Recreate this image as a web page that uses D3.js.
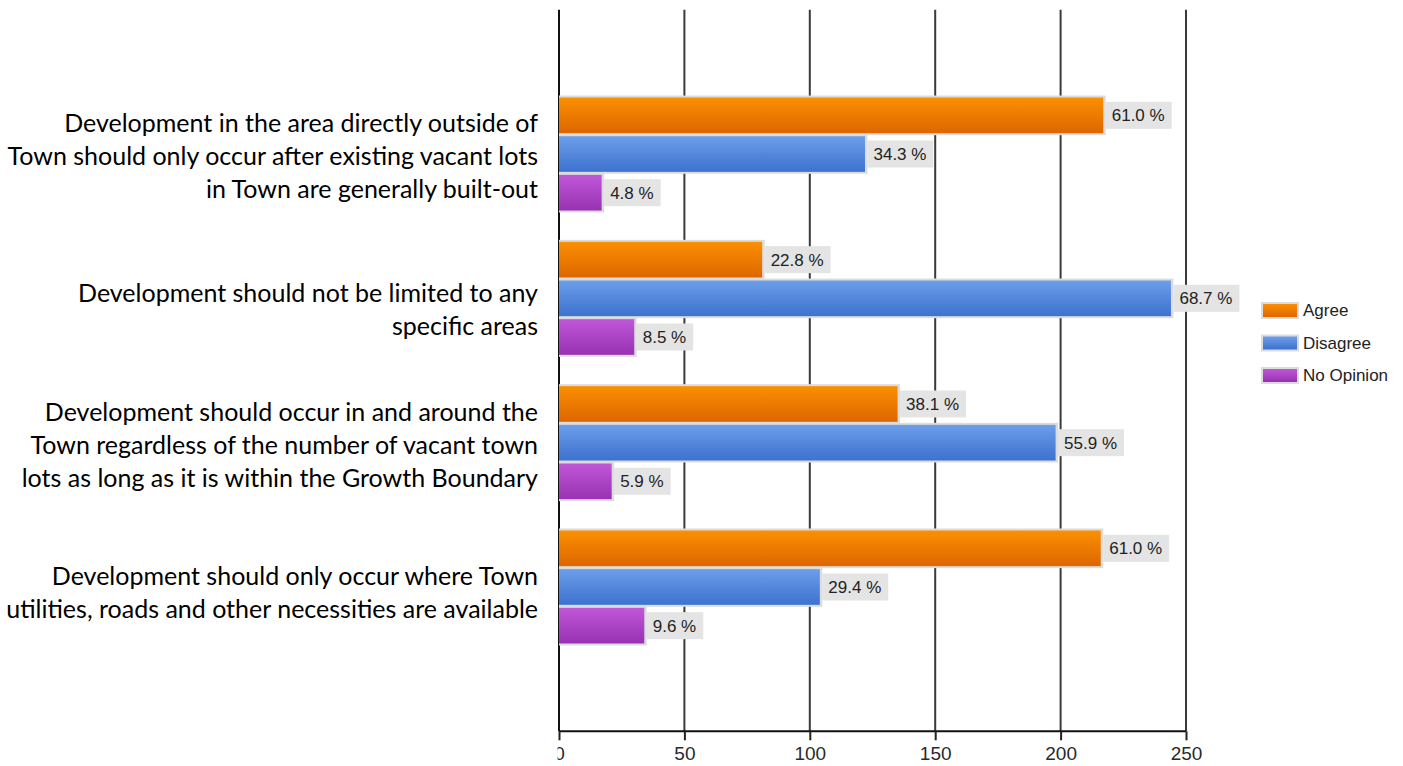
<!DOCTYPE html>
<html>
<head>
<meta charset="utf-8">
<script src="https://cdn.jsdelivr.net/npm/d3@7"></script>
<style>
  html, body { margin: 0; padding: 0; background: #ffffff; }
  svg { display: block; }
</style>
</head>
<body>
<svg id="chart" width="1403" height="766"></svg>
<script>
// Survey statements (each entry holds the wrapped lines of one statement)
const categoryLines = [
  ["Development in the area directly outside of",
   "Town should only occur after existing vacant lots",
   "in Town are generally built-out"],
  ["Development should not be limited to any",
   "specific areas"],
  ["Development should occur in and around the",
   "Town regardless of the number of vacant town",
   "lots as long as it is within the Growth Boundary"],
  ["Development should only occur where Town",
   "utilities, roads and other necessities are available"]
];

// Response series and respondent counts per statement
const seriesNames = ["Agree", "Disagree", "No Opinion"];
const agreeCounts = [217, 81, 135, 216];
const disagreeCounts = [122, 244, 198, 104];
const noOpinionCounts = [17, 30, 21, 34];

// Value axis ticks
const xTicks = [0, 50, 100, 150, 200, 250];

const seriesValues = [agreeCounts, disagreeCounts, noOpinionCounts];

// Styling / layout
const W = 1403, H = 766;
const plot = { left: 559, right: 1186, top: 9.7, bottom: 731.3 };
const gradients = [
  { id: "g-agree",    top: "#fb9000", bottom: "#dd6600" },
  { id: "g-disagree", top: "#6c9ee9", bottom: "#3d72cf" },
  { id: "g-noop",     top: "#c057d9", bottom: "#9732b1" }
];
const labelNudge = [0, 9, 0, 4];
const sansFont = "'Liberation Sans', Arial, sans-serif";

const svg = d3.select("#chart");

const defs = svg.append("defs");
gradients.forEach(g => {
  const lg = defs.append("linearGradient")
    .attr("id", g.id).attr("x1", 0).attr("y1", 0).attr("x2", 0).attr("y2", 1);
  lg.append("stop").attr("offset", "0%").attr("stop-color", g.top);
  lg.append("stop").attr("offset", "100%").attr("stop-color", g.bottom);
});
defs.append("clipPath").attr("id", "tick-clip")
  .append("rect").attr("x", plot.left - 2).attr("y", 0).attr("width", W).attr("height", H);

// Scales
const x = d3.scaleLinear().domain([0, 250]).range([plot.left, plot.right]);
const y = d3.scalePoint().domain(d3.range(categoryLines.length))
  .range([plot.top, plot.bottom]).padding(1);
const groupHalf = 58;
const ySub = d3.scaleBand().domain(seriesNames).range([-groupHalf, groupHalf]);

// Vertical gridlines
svg.append("g").selectAll("line").data(xTicks).join("line")
  .attr("x1", d => x(d)).attr("x2", d => x(d))
  .attr("y1", plot.top).attr("y2", plot.bottom)
  .attr("stroke", d => d === 0 ? "#111" : "#3a3a3a")
  .attr("stroke-width", 2);

// Bar records with percentage of respondents per statement
const rows = [];
categoryLines.forEach((lines, ci) => {
  const total = d3.sum(seriesValues, s => s[ci]);
  seriesNames.forEach((name, si) => {
    const v = seriesValues[si][ci];
    rows.push({ ci, si, name, v, pct: (v / total * 100).toFixed(1) + " %" });
  });
});

// Bars
const barG = svg.append("g");
rows.forEach(r => {
  const by = y(r.ci) + ySub(r.name);
  const bh = ySub.bandwidth();
  const x0 = x(0), x1 = x(r.v);
  // light outline behind each bar
  barG.append("rect")
    .attr("x", x0).attr("y", by - 0.5)
    .attr("width", x1 - x0 + 2.5).attr("height", bh + 1)
    .attr("fill", "#dcdcdc");
  barG.append("rect")
    .attr("x", x0).attr("y", by + 1.5)
    .attr("width", x1 - x0).attr("height", bh - 3)
    .attr("fill", `url(#${gradients[r.si].id})`);
});

// Value labels
const labG = svg.append("g");
rows.forEach(r => {
  const cy = y(r.ci) + ySub(r.name) + ySub.bandwidth() / 2;
  const bx = x(r.v) + 2.5;
  const g = labG.append("g");
  const box = g.append("rect")
    .attr("x", bx).attr("y", cy - 13.5).attr("height", 27)
    .attr("fill", "#e4e4e4");
  const t = g.append("text")
    .attr("x", bx + 6).attr("y", cy + 6)
    .attr("font-family", sansFont)
    .attr("font-size", 17).attr("fill", "#222")
    .text(r.pct);
  box.attr("width", t.node().getComputedTextLength() + 13);
});

// Horizontal value axis
const axisG = svg.append("g")
  .attr("transform", `translate(0,${plot.bottom})`)
  .call(d3.axisBottom(x).tickValues(xTicks).tickSize(9).tickPadding(6).tickFormat(d3.format("d")));
axisG.select(".domain").attr("stroke", "#111").attr("stroke-width", 2)
  .attr("d", `M${plot.left},0H${plot.right}`);
axisG.selectAll(".tick line").attr("stroke", "#222").attr("stroke-width", 2);
axisG.selectAll(".tick text")
  .attr("font-family", sansFont)
  .attr("font-size", 19).attr("fill", "#2a2a2a");
// the "0" label is cut at the axis edge
axisG.selectAll(".tick").filter(d => d === 0).select("text")
  .attr("clip-path", "url(#tick-clip-local)");
defs.append("clipPath").attr("id", "tick-clip-local")
  .append("rect").attr("x", -2).attr("y", 0).attr("width", 40).attr("height", 40);

// Category labels
const catG = svg.append("g")
  .attr("font-family", "Lato, 'Open Sans', sans-serif")
  .attr("font-size", 25).attr("fill", "#000").attr("text-anchor", "end");
categoryLines.forEach((lines, ci) => {
  const c = y(ci) + labelNudge[ci];
  lines.forEach((line, li) => {
    catG.append("text")
      .attr("x", 538)
      .attr("y", c + 11 + (li - (lines.length - 1) / 2) * 33)
      .text(line);
  });
});

// Legend
const legend = svg.append("g").attr("transform", "translate(1261,302)");
seriesNames.forEach((name, i) => {
  const g = legend.append("g").attr("transform", `translate(0,${i * 32.5})`);
  g.append("rect").attr("x", 0).attr("y", 0).attr("width", 38).attr("height", 17)
    .attr("fill", "#dcdcdc");
  g.append("rect").attr("x", 2).attr("y", 2).attr("width", 34).attr("height", 13)
    .attr("fill", `url(#${gradients[i].id})`);
  g.append("text").attr("x", 42).attr("y", 14)
    .attr("font-family", sansFont)
    .attr("font-size", 17).attr("fill", "#222")
    .text(name);
});
</script>
</body>
</html>
